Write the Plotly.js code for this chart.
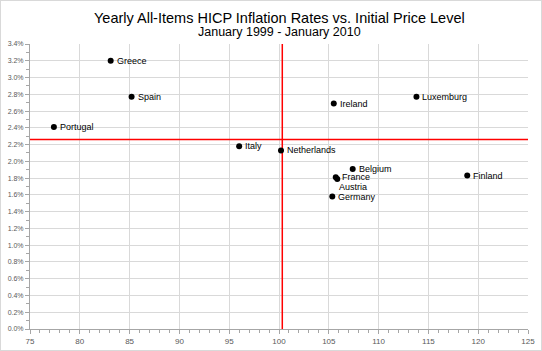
<!DOCTYPE html>
<html><head><meta charset="utf-8">
<script src="https://cdn.plot.ly/plotly-3.0.1.min.js"></script>
<style>html,body{margin:0;padding:0;background:#fff}#c{width:542px;height:351px;box-sizing:border-box;border:1px solid #d9d9d9}</style>
</head><body><div id="c"></div>
<script>
const countries = ["Greece","Spain","Portugal","Italy","Netherlands","Ireland","Luxemburg","Belgium","France","Austria","Germany","Finland"];
const priceLevel = [83.1, 85.2, 77.4, 96.0, 100.2, 105.5, 113.8, 107.4, 105.7, 105.85, 105.35, 118.9];
const inflation = [0.0320, 0.0277, 0.0241, 0.0218, 0.0213, 0.0269, 0.0277, 0.0191, 0.0181, 0.0179, 0.0158, 0.0183];
const avgPriceLevel = 100.33;
const avgInflation = 0.0226;
const xRange = [75, 125];
const yRange = [0, 0.034];
const titleText = 'Yearly All-Items HICP Inflation Rates vs. Initial Price Level';
const subtitleText = 'January 1999 - January 2010';

const labelFont = {family:'Liberation Sans, Arial', size:9, color:'#000'};
const labelAnnotations = countries.map((c, i) => ({
  text:c, x:priceLevel[i], y:inflation[i], xref:'x', yref:'y', showarrow:false,
  xanchor:'left', yanchor:'middle', xshift: c === 'Austria' ? 0 : 4, yshift: c === 'Austria' ? -8 : 0,
  font:labelFont
}));

const traces = [
  {x:[avgPriceLevel, avgPriceLevel], y:[yRange[0], yRange[1]+0.0004], mode:'lines', line:{color:'#ff0000', width:1.5}, hoverinfo:'skip', cliponaxis:false},
  {x:[xRange[0], xRange[1]], y:[avgInflation, avgInflation], mode:'lines', line:{color:'#ff0000', width:1.5}, hoverinfo:'skip'},
  {x:priceLevel, y:inflation, mode:'markers', marker:{color:'#000', size:6}, cliponaxis:false}
];
const layout = {
  width:540, height:349, showlegend:false,
  margin:{l:29, r:13, t:43, b:21},
  paper_bgcolor:'#fff', plot_bgcolor:'#fff',
  font:{family:'Liberation Sans, Arial', color:'#595959'},
  annotations:[
    {text:titleText, xref:'paper', yref:'paper', x:0.5, y:1, yshift:26, xanchor:'center', yanchor:'middle', showarrow:false, font:{size:14.5, color:'#000', family:'Liberation Sans, Arial'}},
    {text:subtitleText, xref:'paper', yref:'paper', x:0.5, y:1, yshift:12, xanchor:'center', yanchor:'middle', showarrow:false, font:{size:12.5, color:'#000', family:'Liberation Sans, Arial'}}
  ].concat(labelAnnotations),
  xaxis:{range:xRange, dtick:5, tick0:75, showgrid:true, gridcolor:'#d9d9d9', gridwidth:1, zeroline:false,
    showline:true, linecolor:'#a6a6a6', ticks:'outside', ticklen:4, tickcolor:'#a6a6a6',
    minor:{dtick:1, ticks:'outside', ticklen:3, tickcolor:'#a6a6a6', showgrid:false},
    tickfont:{size:8, color:'#595959'}, fixedrange:true},
  yaxis:{range:yRange, dtick:0.002, tick0:0, tickformat:'.1%', showgrid:true, gridcolor:'#d9d9d9', gridwidth:1, zeroline:false,
    showline:true, linecolor:'#a6a6a6', ticks:'outside', ticklen:4, tickcolor:'#a6a6a6',
    minor:{dtick:0.001, ticks:'outside', ticklen:3, tickcolor:'#a6a6a6', showgrid:false},
    tickfont:{size:7, color:'#595959'}, fixedrange:true}
};
Plotly.newPlot('c', traces, layout, {displayModeBar:false, staticPlot:true});
</script></body></html>
